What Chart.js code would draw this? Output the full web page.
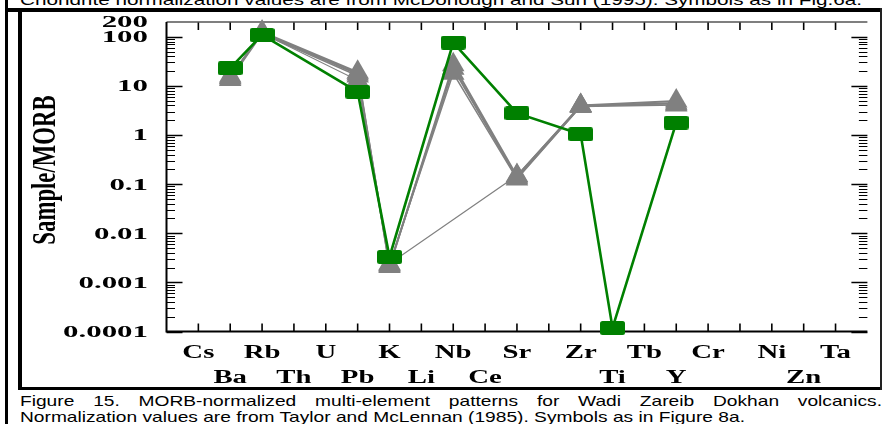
<!DOCTYPE html>
<html><head><meta charset="utf-8">
<script src="https://cdn.jsdelivr.net/npm/chart.js@4"></script>
<style>
html,body{margin:0;padding:0;background:#fff;width:883px;height:424px;overflow:hidden;position:relative}
#c{position:absolute;left:0;top:0}
.ln{position:absolute;background:#000}
.cap{position:absolute;left:20px;font-family:"Liberation Sans",Arial,sans-serif;font-size:15px;line-height:15px;white-space:nowrap;transform-origin:0 0;color:#000;display:inline-block}
</style></head><body>
<div class="cap" id="capTop" style="top:-8.2px">Chondrite normalization values are from McDonough and Sun (1995). Symbols as in Fig.6a.</div>
<div class="cap" id="capL1" style="top:393.3px;text-align:justify;text-align-last:justify;white-space:normal">Figure 15. MORB-normalized multi-element patterns for Wadi Zareib Dokhan volcanics.</div>
<div class="cap" id="capL2" style="top:409px">Normalization values are from Taylor and McLennan (1985). Symbols as in Figure 8a.</div>
<div class="ln" style="left:5px;top:0;width:2.5px;height:424px"></div>
<div class="ln" style="left:5px;top:8px;width:877px;height:3.5px"></div>
<div class="ln" style="left:18px;top:8px;width:3.5px;height:382px"></div>
<div class="ln" style="left:18px;top:387px;width:864px;height:3px"></div>
<div class="ln" style="left:879.5px;top:8px;width:2.2px;height:382px;background:#222"></div>
<canvas id="c" width="883" height="424"></canvas>
<script>
// ---- data ----
const categories = ['Cs','Ba','Rb','Th','U','Pb','K','Li','Nb','Ce','Sr','','Zr','Ti','Tb','Y','Cr','','Ni','Zn','Ta'];
const yTickValues = [200,100,10,1,0.1,0.01,0.001,0.0001];
const yTickLabels = ['200','100','10','1','0.1','0.01','0.001','0.0001'];
const yTitle = 'Sample/MORB';
//                   Cs   Ba    Rb   Th   U     Pb    K        Li   Nb    Ce   Sr     -    Zr    Ti        Tb   Y     Cr   -    Ni   Zn   Ta
const sampleGreen = [null,23,   109, null,null, 7.6,  0.0033,  null,76,   null,2.78,  null,1.04, 0.000118, null,1.79, null,null,null,null,null];
const sampleGrayA = [null,14.5, 125, null,null, 19,   0.0021,  null,27,   null,0.145, null,4.0,  null,     null,4.9,  null,null,null,null,null];
const sampleGrayB = [null,15,   120, null,null, 17.5, 0.0022,  null,23,   null,0.135, null,3.9,  null,     null,4.5,  null,null,null,null,null];
const sampleGrayC = [null,13.5, 115, null,null, 16,   0.0023,  null,18,   null,0.127, null,3.8,  null,     null,4.1,  null,null,null,null,null];
const sampleGrayD = [null,16,   118, null,null, 13,   0.0024,  null,null, null,0.15,  null,4.0,  null,     null,4.3,  null,null,null,null,null];

// ---- captions fit ----
(function(){
  const l2 = document.getElementById('capL2');
  const k = 725 / l2.getBoundingClientRect().width;
  l2.style.transform = 'scaleX(' + k + ')';
  const l1 = document.getElementById('capL1');
  l1.style.width = (862 / k) + 'px';
  l1.style.transform = 'scaleX(' + k + ')';
  const t = document.getElementById('capTop');
  const kt = 842 / t.getBoundingClientRect().width;
  t.style.transform = 'scaleX(' + kt + ')';
})();

function rectImg(w,h,r,color){
  const c=document.createElement('canvas'); c.width=w; c.height=h;
  const g=c.getContext('2d'); g.fillStyle=color; g.beginPath(); g.roundRect(0,0,w,h,r); g.fill();
  return c;
}
const greenRect = rectImg(25,14,2.5,'#008000');

const labels = ['', ...categories, ''];
const pad = a => [null, ...a, null];
function grayDs(arr, w){
  return {data: pad(arr), borderColor:'#808080', backgroundColor:'#808080', borderWidth:w,
    pointStyle:'triangle', pointRadius:13, pointBorderWidth:0, pointBackgroundColor:'#808080',
    spanGaps:true, tension:0, clip:false, order:1};
}

const axisPlugin = {
  id:'axesDeco',
  beforeDatasetsDraw(chart){
    const {ctx, chartArea:a, scales:{x,y}} = chart;
    ctx.save();
    ctx.strokeStyle='#000';
    ctx.lineWidth=1.6;
    for(let i=1;i<=categories.length;i++){
      const px = x.getPixelForValue(i);
      ctx.beginPath(); ctx.moveTo(px,a.top); ctx.lineTo(px,a.top+8); ctx.stroke();
      ctx.beginPath(); ctx.moveTo(px,a.bottom); ctx.lineTo(px,a.bottom-8); ctx.stroke();
    }
    for(let e=-4;e<=2;e++){
      for(let k=1;k<=9;k++){
        const v = k*Math.pow(10,e);
        if(v>=200) break;
        const py = Math.round(y.getPixelForValue(v))+0.5;
        const len = k===1?16:8.5;
        ctx.lineWidth = k===1?1.5:1;
        ctx.beginPath(); ctx.moveTo(a.left,py); ctx.lineTo(a.left+len,py); ctx.stroke();
        ctx.beginPath(); ctx.moveTo(a.right,py); ctx.lineTo(a.right-len,py); ctx.stroke();
      }
    }
    // frame
    ctx.strokeStyle='#555'; ctx.lineWidth=1.5;
    ctx.beginPath(); ctx.moveTo(a.left,a.top); ctx.lineTo(a.right,a.top); ctx.stroke();
    ctx.strokeStyle='#000'; ctx.lineWidth=2;
    ctx.beginPath(); ctx.moveTo(a.left,a.top); ctx.lineTo(a.left,a.bottom); ctx.lineTo(a.right,a.bottom); ctx.stroke();
    ctx.restore();
  },
  afterDraw(chart){
    const {ctx, chartArea:a, scales:{x,y}} = chart;
    ctx.save();
    ctx.fillStyle='#000';
    ctx.textBaseline='alphabetic';
    ctx.font='bold 16px "Liberation Serif"';
    ctx.textAlign='right';
    yTickValues.forEach((v,i)=>{
      const py=y.getPixelForValue(v);
      ctx.save(); ctx.translate(148, py+5.4); ctx.scale(1.93,1); ctx.fillText(yTickLabels[i],0,0); ctx.restore();
    });
    ctx.font='bold 18px "Liberation Serif"';
    ctx.textAlign='center';
    categories.forEach((c,i)=>{
      if(!c) return;
      const px=x.getPixelForValue(i+1);
      const by = (i%2===0) ? a.bottom+26 : a.bottom+51.8;
      ctx.save(); ctx.translate(px, by); ctx.scale(1.6,1); ctx.fillText(c,0,0); ctx.restore();
    });
    ctx.save();
    ctx.translate(55,170); ctx.rotate(-Math.PI/2); ctx.scale(0.69,1);
    ctx.font='bold 33px "Liberation Serif"'; ctx.textAlign='center';
    ctx.fillText(yTitle,0,0);
    ctx.restore();
    ctx.restore();
  }
};

new Chart(document.getElementById('c'), {
  type:'line',
  data:{
    labels,
    datasets:[
      {data: pad(sampleGreen), borderColor:'#008000', backgroundColor:'#008000', borderWidth:2.6,
        pointStyle: greenRect, spanGaps:true, tension:0, clip:false, order:0},
      grayDs(sampleGrayA, 2),
      grayDs(sampleGrayB, 2),
      grayDs(sampleGrayC, 1.5),
      grayDs(sampleGrayD, 1.2)
    ]
  },
  options:{
    responsive:false, animation:false, devicePixelRatio:1,
    layout:{padding:{left:0,right:2.5,top:22,bottom:0}},
    plugins:{legend:{display:false}, tooltip:{enabled:false}},
    elements:{point:{hoverRadius:13}},
    scales:{
      x:{type:'category', offset:false, grid:{display:false}, border:{display:false}, ticks:{display:false},
         afterFit:s=>{s.height=92.5;}},
      y:{type:'logarithmic', min:0.0001, max:200, grid:{display:false}, border:{display:false}, ticks:{display:false},
         afterFit:s=>{s.width=166.5;}}
    }
  },
  plugins:[axisPlugin]
});
</script>
</body></html>
